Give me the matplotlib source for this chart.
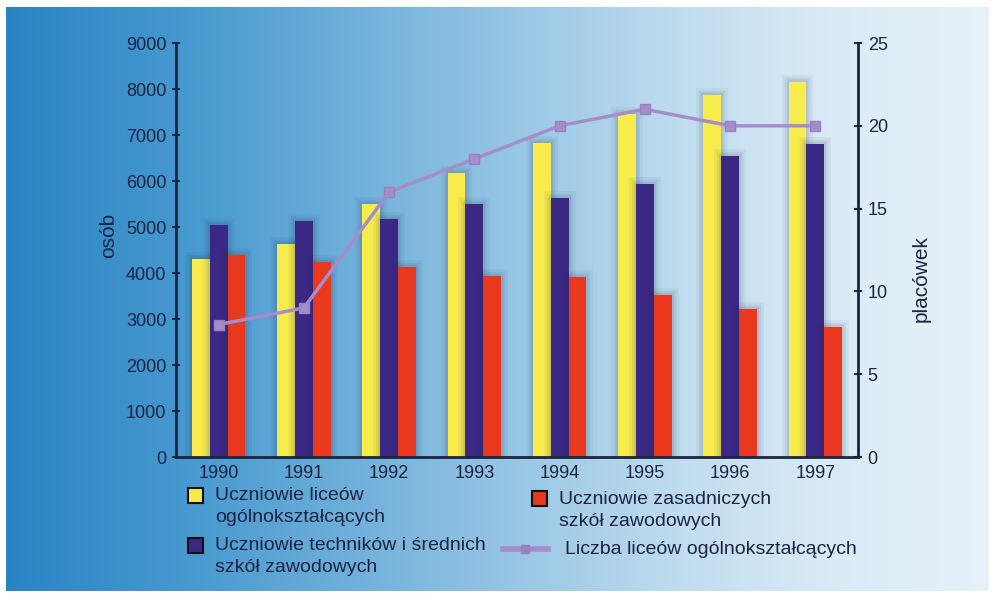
import numpy as np
import matplotlib.pyplot as plt
import matplotlib.patheffects as pe
from matplotlib.colors import LinearSegmentedColormap
from matplotlib.patches import Rectangle
from matplotlib.lines import Line2D

plt.rcParams['font.family'] = ['Liberation Sans', 'DejaVu Sans']

# data
years = ["1990", "1991", "1992", "1993", "1994", "1995", "1996", "1997"]
licea = [4300, 4620, 5500, 6180, 6820, 7450, 7870, 8150]
technika = [5050, 5120, 5180, 5500, 5620, 5930, 6540, 6800]
zasadnicze = [4400, 4250, 4120, 3940, 3920, 3530, 3220, 2830]
liczba_liceow = [8, 9, 16, 18, 20, 21, 20, 20]

labels = ["Uczniowie liceów\nogólnokształcących",
          "Uczniowie techników i średnich\nszkół zawodowych",
          "Uczniowie zasadniczych\nszkół zawodowych",
          "Liczba liceów ogólnokształcących"]

yellow = "#f8ec4c"
indigo = "#3b2884"
red = "#e8381d"
lilac = "#a48dca"
ink = "#1b2440"

W, H = 994, 598
fig = plt.figure(figsize=(W / 100, H / 100), dpi=100, facecolor="white")

def fx(px):
    return px / W

def fy(py):
    return 1 - py / H

# gradient background
bg = fig.add_axes([fx(6), fy(591), fx(982), 584 / H], zorder=-5)
cmap = LinearSegmentedColormap.from_list("bg", [
    (0.0, "#2a84c4"), (0.2, "#4a9bd0"), (0.45, "#88bde0"),
    (0.7, "#c3def0"), (0.85, "#dbebf6"), (1.0, "#e6f1f8")])
grad = np.linspace(0, 1, 512).reshape(1, -1)
bg.imshow(grad, aspect="auto", cmap=cmap, extent=[0, 1, 0, 1])
bg.axis("off")

ax = fig.add_axes([fx(176), fy(457), fx(682), 414 / H])
ax.patch.set_alpha(0)

x = np.arange(len(years))
w = 0.21
# soft dark halo around the bars
halo = [pe.Stroke(linewidth=10, foreground="#1a3050", alpha=0.05),
        pe.Stroke(linewidth=6, foreground="#1a3050", alpha=0.07),
        pe.Stroke(linewidth=3, foreground="#1a3050", alpha=0.08),
        pe.Normal()]
for off, vals, col in [(-w, licea, yellow), (0, technika, indigo), (w, zasadnicze, red)]:
    bars = ax.bar(x + off, vals, w, color=col, zorder=2)
    for b in bars:
        b.set_path_effects(halo)

ax.set_xlim(-0.5, len(years) - 0.5)
ax.set_ylim(0, 9000)
ax.set_yticks(range(0, 9001, 1000))
ax.set_xticks(x)
ax.set_xticklabels(years)

ax2 = ax.twinx()
ax2.plot(x, liczba_liceow, color=lilac, lw=2.5, marker="s", ms=7,
         markerfacecolor=lilac, markeredgecolor="#9a80c0", zorder=3)
ax2.set_ylim(0, 25)
ax2.set_yticks(range(0, 26, 5))

for a in (ax, ax2):
    for s in a.spines.values():
        s.set_color(ink)
        s.set_linewidth(2)
    a.spines["top"].set_visible(False)
ax.spines["right"].set_visible(False)
ax2.spines["left"].set_visible(False)
ax2.spines["bottom"].set_visible(False)

ax.tick_params(axis="y", direction="inout", length=6, width=1.5, color=ink,
               labelsize=13, labelcolor=ink, pad=4)
ax.tick_params(axis="x", length=0, labelsize=13, labelcolor=ink, pad=6)
ax2.tick_params(axis="y", direction="inout", length=6, width=1.5, color=ink,
                labelsize=13, labelcolor=ink, pad=4)

ax.set_ylabel("osób", fontsize=15, color=ink)
ax.yaxis.set_label_coords(-0.085, 0.534)
ax2.set_ylabel("placówek", fontsize=15, color=ink)
ax2.yaxis.set_label_coords(1.079, 0.43)

# legend, laid out by hand
fs = 14
entries = [
    ("patch", yellow, 188, 488, labels[0]),
    ("patch", indigo, 188, 538, labels[1]),
    ("patch", red, 532, 491, labels[2]),
    ("line", lilac, 503, 549, labels[3]),
]
for kind, col, px, py, lab in entries:
    if kind == "patch":
        fig.add_artist(Rectangle((fx(px), fy(py + 15)), fx(15), 15 / H,
                                 transform=fig.transFigure, facecolor=col,
                                 edgecolor="#111111", lw=1.5))
        tx, ty = px + 27, py + 8
    else:
        fig.add_artist(Line2D([fx(px), fx(px + 45)], [fy(py), fy(py)],
                              transform=fig.transFigure, color=col, lw=4))
        fig.add_artist(Line2D([fx(px + 22)], [fy(py)], transform=fig.transFigure,
                              color="#9a80c0", marker="s", ms=6))
        tx, ty = px + 62, py
    for i, line in enumerate(lab.split("\n")):
        fig.text(fx(tx), fy(ty + 22 * i), line, fontsize=fs, color=ink,
                 va="center", ha="left")

fig.savefig("out.png", dpi=100)
